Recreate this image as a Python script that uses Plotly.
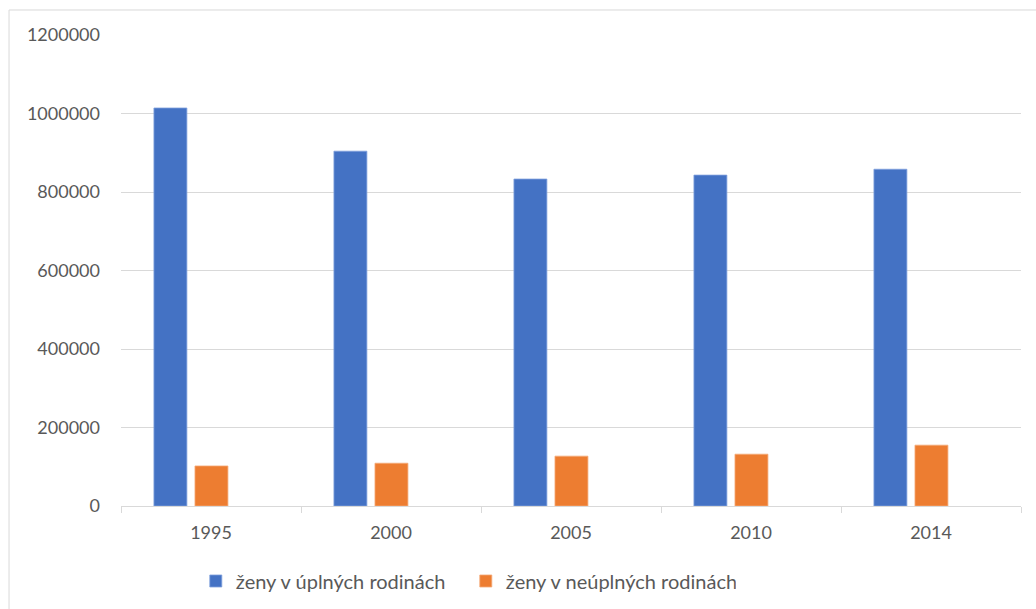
import plotly.graph_objects as go

years = ["1995", "2000", "2005", "2010", "2014"]
uplne = [1014000, 904000, 833000, 843000, 858000]
neuplne = [102000, 109000, 127000, 132000, 155000]
series_names = ["ženy v úplných rodinách", "ženy v neúplných rodinách"]

BLUE = "#4472C4"
ORANGE = "#ED7D31"
TEXT = "#595959"
GRID = "#D9D9D9"

fig = go.Figure()
fig.add_trace(go.Bar(
    x=years, y=uplne, name=series_names[0],
    marker=dict(color=BLUE, line=dict(color="#7FA0DC", width=0.8)),
    width=0.183, offset=-0.317,
))
fig.add_trace(go.Bar(
    x=years, y=neuplne, name=series_names[1],
    marker=dict(color=ORANGE, line=dict(color="#F4A977", width=0.8)),
    width=0.183, offset=-0.089,
))

fig.update_layout(
    width=1036, height=609,
    margin=dict(l=121, r=15, t=35, b=103, autoexpand=False),
    paper_bgcolor="white", plot_bgcolor="white",
    font=dict(family="Lato, 'Open Sans', sans-serif", size=18, color=TEXT),
    barmode="group",
    showlegend=True,
    legend=dict(
        orientation="h", xref="container", yref="container",
        x=0.189, xanchor="left", y=0.046, yanchor="middle",
        font=dict(size=20, color=TEXT), itemwidth=30,
        entrywidth=225, entrywidthmode="pixels",
    ),
    xaxis=dict(
        type="category", showgrid=False, showline=True, linecolor=GRID, linewidth=1,
        ticks="outside", tickson="boundaries", ticklen=6, tickcolor=GRID,
        ticklabelstandoff=10, tickfont=dict(size=18, color=TEXT),
    ),
    yaxis=dict(
        range=[0, 1200000], dtick=200000, showgrid=True, gridcolor=GRID, gridwidth=1,
        zeroline=False, showline=False, tickformat="d",
        ticklabelstandoff=20, tickfont=dict(size=18, color=TEXT),
    ),
    shapes=[dict(
        type="rect", xref="paper", yref="paper",
        x0=-0.1244, x1=1.03, y0=-0.25, y1=1.0531,
        line=dict(color=GRID, width=1), fillcolor="rgba(0,0,0,0)", layer="below",
    )],
)

fig.write_html("out.html")
